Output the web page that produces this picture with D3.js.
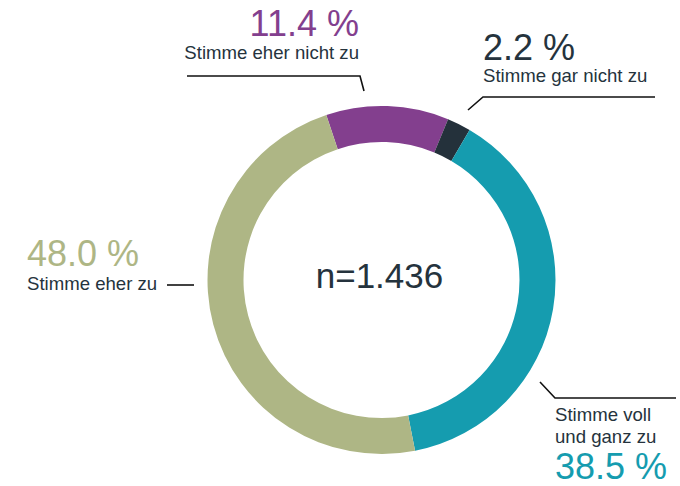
<!DOCTYPE html>
<html>
<head>
<meta charset="utf-8">
<script src="https://cdn.jsdelivr.net/npm/d3@7"></script>
<style>
  body { margin: 0; background: #fff; }
  text { font-family: "Liberation Sans", Arial, Helvetica, sans-serif; }
</style>
</head>
<body>
<div id="chart"></div>
<script>
// DATA
const categories = ["Stimme eher nicht zu", "Stimme gar nicht zu", "Stimme voll und ganz zu", "Stimme eher zu"]
const values = [11.4, 2.2, 38.5, 48.0]
const valueLabels = ["11.4 %", "2.2 %", "38.5 %", "48.0 %"]
const colors = ["#833f8e", "#24313b", "#159caf", "#aeb685"]
const sampleLabel = "n=1.436"

// Chart size
const width = 680
const height = 486
const textColor = "#25333d"

const svg = d3.select("#chart").append("svg")
  .attr("width", width)
  .attr("height", height)

// Donut in the middle
const cx = 381.5, cy = 280
const outerR = 174, innerR = 138
const startAngle = -18.5 * Math.PI / 180

const pie = d3.pie().sort(null)
  .startAngle(startAngle)
  .endAngle(startAngle + 2 * Math.PI)
const arc = d3.arc().innerRadius(innerR).outerRadius(outerR)

const ring = svg.append("g").attr("transform", `translate(${cx}, ${cy})`)
ring.selectAll("path")
  .data(pie(values))
  .enter()
  .append("path")
  .attr("d", arc)
  .attr("fill", (d, i) => colors[i])

ring.append("text")
  .attr("x", -2)
  .attr("y", 8)
  .attr("text-anchor", "middle")
  .attr("font-size", 35)
  .attr("fill", textColor)
  .text(sampleLabel)

// Label layout for each slice (leader line points + text block)
const layout = [
  { line: [[187, 76], [360, 76], [364, 91]], anchor: "end", x: 359, pctY: 36, nameY: [59] },
  { line: [[468, 110], [483, 97], [655, 97]], anchor: "start", x: 483, pctY: 60, nameY: [82] },
  { line: [[540, 382], [555, 398], [676, 398]], anchor: "start", x: 555, pctY: 479, nameY: [421, 443],
    lines: ["Stimme voll", "und ganz zu"] },
  { line: [[167, 285], [194, 285]], anchor: "start", x: 27, pctY: 266, nameY: [290] }
]

const lineGen = d3.line()

layout.forEach((l, i) => {
  svg.append("path")
    .attr("d", lineGen(l.line))
    .attr("fill", "none")
    .attr("stroke", "#111")
    .attr("stroke-width", 1.6)

  svg.append("text")
    .attr("x", l.x)
    .attr("y", l.pctY)
    .attr("text-anchor", l.anchor)
    .attr("font-size", 36)
    .attr("fill", i == 1 ? textColor : colors[i])
    .text(valueLabels[i])

  const nameLines = l.lines || [categories[i]]
  nameLines.forEach((t, j) => {
    svg.append("text")
      .attr("x", l.x)
      .attr("y", l.nameY[j])
      .attr("text-anchor", l.anchor)
      .attr("font-size", 18.6)
      .attr("fill", textColor)
      .text(t)
  })
})
</script>
</body>
</html>
